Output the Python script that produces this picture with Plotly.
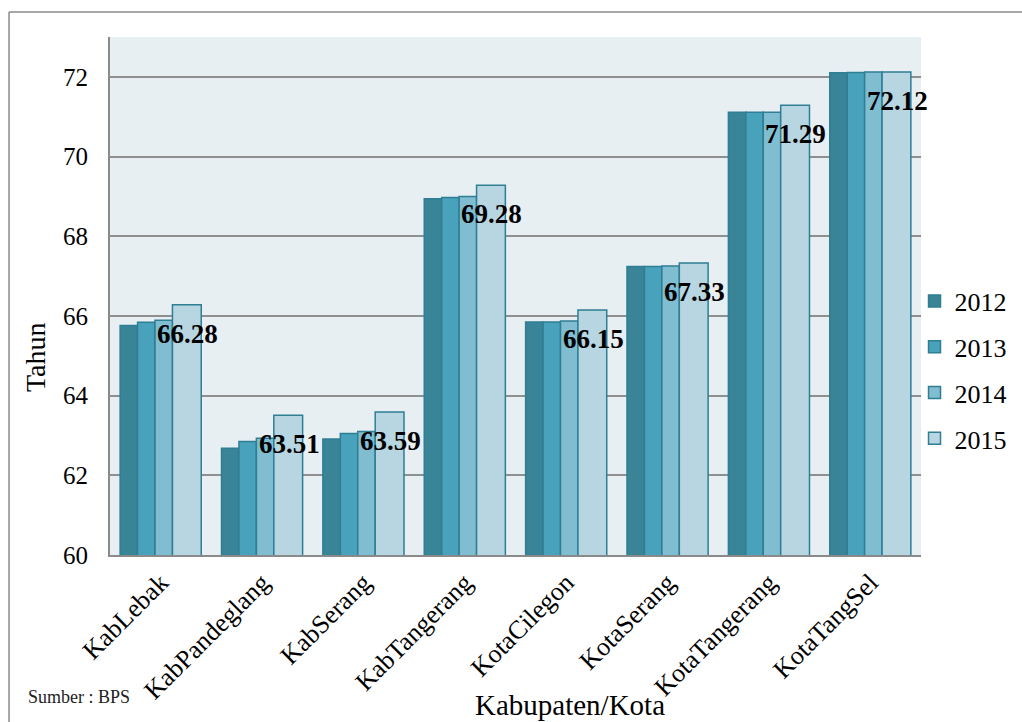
import plotly.graph_objects as go

# Angka Harapan Lama Sekolah per kabupaten/kota, Provinsi Banten
wilayah = ["KabLebak", "KabPandeglang", "KabSerang", "KabTangerang",
           "KotaCilegon", "KotaSerang", "KotaTangerang", "KotaTangSel"]
tahun = ["2012", "2013", "2014", "2015"]
nilai_2012 = [65.76, 62.68, 62.91, 68.94, 65.85, 67.24, 71.11, 72.10]
nilai_2013 = [65.84, 62.85, 63.05, 68.97, 65.85, 67.24, 71.11, 72.11]
nilai_2014 = [65.89, 62.93, 63.10, 69.00, 65.87, 67.25, 71.11, 72.12]
nilai_2015 = [66.28, 63.51, 63.59, 69.28, 66.15, 67.33, 71.29, 72.12]
y_ticks = [60, 62, 64, 66, 68, 70, 72]

series = [nilai_2012, nilai_2013, nilai_2014, nilai_2015]
fills = ["#3A8497", "#48A2BB", "#80BDD1", "#B7D6E1"]
widths = [0.172, 0.172, 0.172, 0.284]
offsets = [-0.400, -0.228, -0.056, 0.116]

SERIF = "Liberation Serif"

fig = go.Figure()
for name, vals, col, w, off in zip(tahun, series, fills, widths, offsets):
    fig.add_trace(go.Bar(
        x=wilayah, y=vals, name=name, legendgroup=name,
        width=w, offset=off,
        marker=dict(color=col, line=dict(color="#2E7E94", width=1.5)),
    ))

# value labels for the latest year
for w_name, v in zip(wilayah, nilai_2015):
    fig.add_annotation(
        x=w_name, y=v, xref="x", yref="y", text=f"<b>{v:.2f}</b>",
        showarrow=False, xanchor="center", yanchor="middle",
        xshift=27, yshift=-29,
        font=dict(family=SERIF, size=27, color="black"),
    )

# axis titles placed as free text
fig.add_annotation(
    x=-0.0925, y=0.382, xref="paper", yref="paper", text="Tahun",
    textangle=-90, showarrow=False, xanchor="center", yanchor="middle",
    font=dict(family=SERIF, size=28, color="black"),
)
fig.add_annotation(
    x=0.567, y=-0.29, xref="paper", yref="paper", text="Kabupaten/Kota",
    showarrow=False, xanchor="center", yanchor="middle",
    font=dict(family=SERIF, size=29, color="black"),
)

# source note
fig.add_annotation(
    x=-0.1035, y=-0.275, xref="paper", yref="paper", text="Sumber : BPS",
    showarrow=False, xanchor="left", yanchor="middle",
    font=dict(family=SERIF, size=18, color="#222"),
)

# outer frame (top and left edges)
fig.add_shape(type="line", xref="paper", yref="paper",
              x0=-0.1245, y0=1.0483, x1=1.13, y1=1.0483,
              line=dict(color="#8a8a8a", width=1.5))
fig.add_shape(type="line", xref="paper", yref="paper",
              x0=-0.1245, y0=1.0483, x1=-0.1245, y1=-0.33,
              line=dict(color="#8a8a8a", width=1.5))

fig.update_layout(
    width=1022, height=722,
    margin=dict(l=110, r=101, t=37, b=167, autoexpand=False),
    paper_bgcolor="white", plot_bgcolor="#E8EFF3",
    barmode="overlay",
    font=dict(family=SERIF, color="black"),
    showlegend=True,
    legend=dict(
        x=0.992, y=0.357, xanchor="left", yanchor="middle",
        traceorder="grouped", tracegroupgap=9,
        font=dict(family=SERIF, size=26, color="black"),
        bgcolor="rgba(0,0,0,0)",
    ),
    xaxis=dict(
        type="category", range=[-0.5, 7.5],
        tickangle=-45, tickfont=dict(family=SERIF, size=26),
        showline=True, linecolor="#8a8a8a", linewidth=2,
        showgrid=False, ticks="",
    ),
    yaxis=dict(
        range=[60, 73], tickvals=y_ticks,
        tickfont=dict(family=SERIF, size=25),
        showline=True, linecolor="#8a8a8a", linewidth=2,
        showgrid=True, gridcolor="#8f8f8f", gridwidth=2,
        ticks="", ticklen=0, ticklabelstandoff=15,
        zeroline=False,
    ),
)

fig.write_html("out.html")
